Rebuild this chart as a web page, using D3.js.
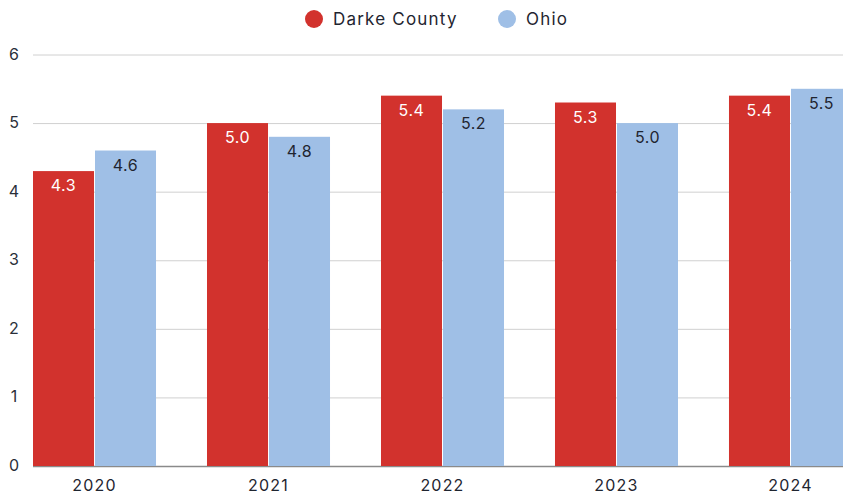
<!DOCTYPE html>
<html>
<head>
<meta charset="utf-8">
<script src="https://cdn.jsdelivr.net/npm/d3@7"></script>
<style>
  body { margin: 0; background: #fff; }
  text { font-family: Inter, "Noto Sans", sans-serif; }
</style>
</head>
<body>
<div id="chart"></div>
<script>
var years = ["2020", "2021", "2022", "2023", "2024"];
var seriesNames = ["Darke County", "Ohio"];
var darke = [4.3, 5.0, 5.4, 5.3, 5.4];
var ohio = [4.6, 4.8, 5.2, 5.0, 5.5];
var yTicks = [0, 1, 2, 3, 4, 5, 6];

var colors = ["#d2322d", "#9fbfe6"];
var labelColors = ["#ffffff", "#1f2530"];

var width = 843, height = 494;

var svg = d3.select("#chart").append("svg")
            .attr("width", width)
            .attr("height", height);

var x = d3.scaleBand()
          .domain(years)
          .range([33, 852])
          .paddingInner(0.293)
          .paddingOuter(0);

var x1 = d3.scaleBand()
           .domain(seriesNames)
           .range([0, x.bandwidth()])
           .paddingInner(0.016);

var y = d3.scaleLinear()
          .domain([0, 6])
          .range([466, 54.5]);

// gridlines
svg.selectAll(".grid")
   .data(yTicks.filter(function(d) { return d > 0; }))
   .enter()
   .append("line")
   .attr("x1", 33)
   .attr("x2", width)
   .attr("y1", function(d) { return y(d) + 0.5; })
   .attr("y2", function(d) { return y(d) + 0.5; })
   .attr("stroke", "#d0d0d0")
   .attr("stroke-width", 1);

// baseline
svg.append("line")
   .attr("x1", 33)
   .attr("x2", width)
   .attr("y1", y(0) + 0.5)
   .attr("y2", y(0) + 0.5)
   .attr("stroke", "#8a8a8a")
   .attr("stroke-width", 1.5);

// y labels
svg.selectAll(".ylab")
   .data(yTicks)
   .enter()
   .append("text")
   .attr("x", 14)
   .attr("y", function(d) { return y(d) + 5; })
   .attr("text-anchor", "middle")
   .style("font-size", "16px")
   .attr("fill", "#2a2f3a")
   .text(function(d) { return d; });

var rows = years.map(function(yr, i) {
  return { year: yr, values: [darke[i], ohio[i]] };
});

var groups = svg.selectAll(".grp")
                .data(rows)
                .enter()
                .append("g")
                .attr("transform", function(d) { return "translate(" + x(d.year) + ",0)"; });

groups.selectAll("rect")
      .data(function(d) { return d.values.map(function(v, j) { return { s: seriesNames[j], v: v, j: j }; }); })
      .enter()
      .append("rect")
      .attr("x", function(d) { return x1(d.s); })
      .attr("width", x1.bandwidth())
      .attr("y", function(d) { return y(d.v); })
      .attr("height", function(d) { return y(0) - y(d.v); })
      .attr("fill", function(d) { return colors[d.j]; });

groups.selectAll(".val")
      .data(function(d) { return d.values.map(function(v, j) { return { s: seriesNames[j], v: v, j: j }; }); })
      .enter()
      .append("text")
      .attr("x", function(d) { return x1(d.s) + x1.bandwidth() / 2; })
      .attr("y", function(d) { return y(d.v) + 20; })
      .attr("text-anchor", "middle")
      .style("font-size", "16px")
      .style("letter-spacing", "0.5px")
      .attr("fill", function(d) { return labelColors[d.j]; })
      .text(function(d) { return d.v.toFixed(1); });

// x labels
svg.selectAll(".xlab")
   .data(years)
   .enter()
   .append("text")
   .attr("x", function(d) { return x(d) + x.bandwidth() / 2; })
   .attr("y", 491)
   .attr("text-anchor", "middle")
   .style("font-size", "16px")
   .style("letter-spacing", "1.2px")
   .attr("fill", "#1f2530")
   .text(function(d) { return d; });

// legend
var legendX = [314, 507];
var legend = svg.selectAll(".leg")
                .data(seriesNames)
                .enter()
                .append("g");

legend.append("circle")
      .attr("cx", function(d, i) { return legendX[i]; })
      .attr("cy", 19)
      .attr("r", 9)
      .attr("fill", function(d, i) { return colors[i]; });

legend.append("text")
      .attr("x", function(d, i) { return legendX[i] + 19; })
      .attr("y", 25)
      .style("font-size", "17px")
      .style("letter-spacing", "1.2px")
      .attr("fill", "#1f2530")
      .text(function(d) { return d; });
</script>
</body>
</html>
